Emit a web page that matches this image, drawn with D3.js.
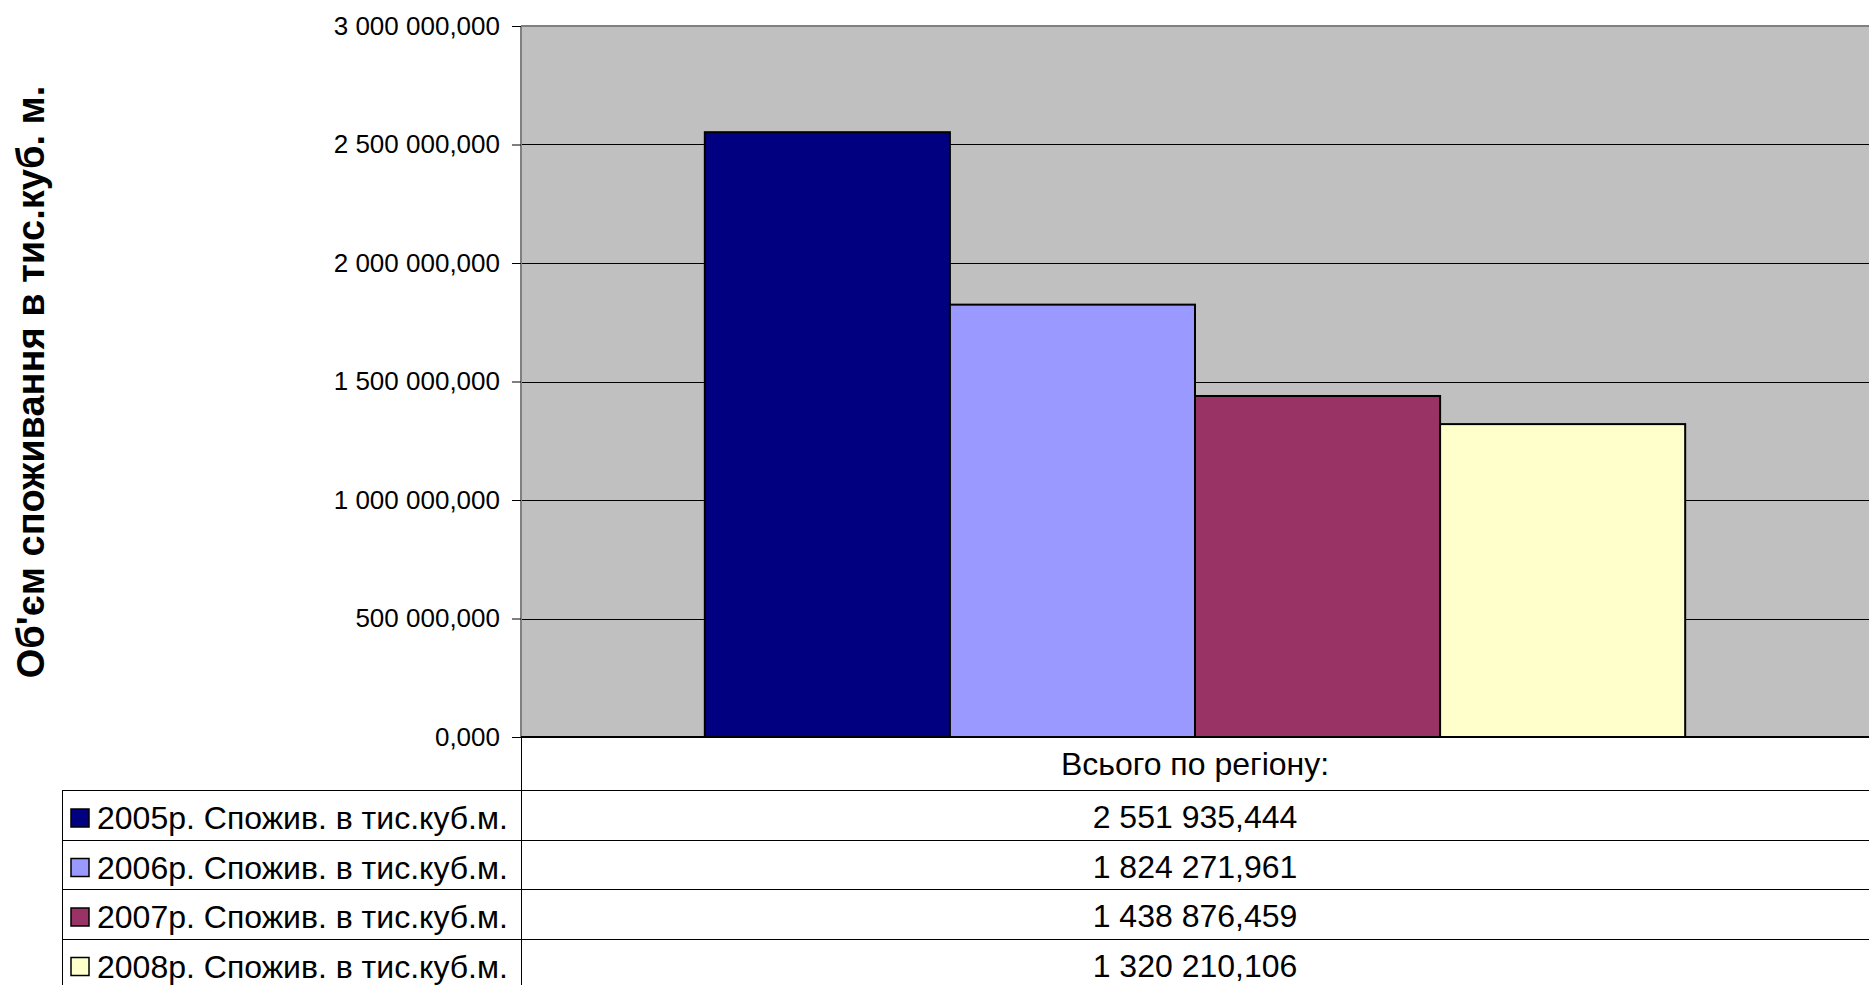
<!DOCTYPE html>
<html>
<head>
<meta charset="utf-8">
<script src="https://cdn.jsdelivr.net/npm/d3@7"></script>
<style>
  html, body { margin: 0; padding: 0; background: #ffffff; }
  svg { display: block; }
  text { font-family: "Liberation Sans", Arial, sans-serif; fill: #000; }
</style>
</head>
<body>
<svg id="chart" width="1869" height="985"></svg>
<script>
// ---- data ----
const categories = ["Всього по регіону:"];
const seriesNames = [
  "2005р. Спожив. в тис.куб.м.",
  "2006р. Спожив. в тис.куб.м.",
  "2007р. Спожив. в тис.куб.м.",
  "2008р. Спожив. в тис.куб.м."
];
const seriesValues = [2551935.444, 1824271.961, 1438876.459, 1320210.106];
const seriesColors = ["#000080", "#9999FF", "#993366", "#FFFFCC"];
const tickValues = [0, 500000, 1000000, 1500000, 2000000, 2500000, 3000000];
const tickLabels = ["0,000", "500 000,000", "1 000 000,000", "1 500 000,000",
                    "2 000 000,000", "2 500 000,000", "3 000 000,000"];
const yTitle = "Об'єм споживання в тис.куб. м.";

// ---- layout ----
const W = 1869, H = 985;
const plot = { left: 521, right: 1869, top: 26, bottom: 737 };
const table = { left: 62, headerBottom: 790, rowH: 49.5 };

const svg = d3.select("#chart");
const fmt = d3.formatLocale({ decimal: ",", thousands: " ", grouping: [3], currency: ["", ""] }).format(",.3f");

const y = d3.scaleLinear().domain([0, 3000000]).range([plot.bottom, plot.top]);
const x0 = d3.scaleBand().domain(categories).range([plot.left, plot.right]);
const x1 = d3.scaleBand().domain(seriesNames).range([0, x0.bandwidth()]).paddingInner(0).paddingOuter(0.75);

// plot background
svg.append("rect").attr("x", plot.left).attr("y", plot.top)
  .attr("width", plot.right - plot.left).attr("height", plot.bottom - plot.top)
  .attr("fill", "#C0C0C0");

// gridlines
svg.append("g").selectAll("line").data(tickValues.filter(d => d > 0 && d < 3000000)).join("line")
  .attr("x1", plot.left).attr("x2", plot.right)
  .attr("y1", d => Math.round(y(d)) + 0.5).attr("y2", d => Math.round(y(d)) + 0.5)
  .attr("stroke", "#000").attr("stroke-width", 1);

// plot border (top + left gray)
svg.append("line").attr("x1", plot.left).attr("x2", plot.right)
  .attr("y1", plot.top).attr("y2", plot.top).attr("stroke", "#808080").attr("stroke-width", 2);
svg.append("line").attr("x1", plot.left).attr("x2", plot.left)
  .attr("y1", plot.top).attr("y2", plot.bottom).attr("stroke", "#808080").attr("stroke-width", 2);

// bars
const g = svg.append("g");
categories.forEach(cat => {
  g.selectAll("rect.bar").data(seriesNames).join("rect")
    .attr("class", "bar")
    .attr("x", d => x0(cat) + x1(d))
    .attr("width", x1.bandwidth())
    .attr("y", (d, i) => y(seriesValues[i]))
    .attr("height", (d, i) => plot.bottom - y(seriesValues[i]))
    .attr("fill", (d, i) => seriesColors[i])
    .attr("stroke", "#000").attr("stroke-width", 2);
});

// y axis
const yAxis = d3.axisLeft(y).tickValues(tickValues)
  .tickFormat((d, i) => tickLabels[i]).tickSize(9).tickPadding(12);
const ya = svg.append("g").attr("transform", `translate(${plot.left},0)`).call(yAxis);
ya.select(".domain").remove();
ya.selectAll(".tick line").attr("stroke", "#000").attr("stroke-width", 1);
ya.selectAll(".tick text").attr("font-size", 26).attr("font-family", '"Liberation Sans", Arial, sans-serif')
  .attr("fill", "#000");

// x axis line
svg.append("line").attr("x1", plot.left).attr("x2", plot.right)
  .attr("y1", plot.bottom).attr("y2", plot.bottom).attr("stroke", "#000").attr("stroke-width", 2);

// y title
svg.append("text")
  .attr("transform", `translate(44,382) rotate(-90)`)
  .attr("text-anchor", "middle")
  .attr("font-size", 38).attr("font-weight", "bold")
  .text(yTitle);

// ---- data table ----
const tbl = svg.append("g");
// vertical divider continuing the plot's left edge
tbl.append("line").attr("x1", plot.left + 0.5).attr("x2", plot.left + 0.5)
  .attr("y1", plot.bottom).attr("y2", H).attr("stroke", "#000").attr("stroke-width", 1);
// left table border
tbl.append("line").attr("x1", table.left + 0.5).attr("x2", table.left + 0.5)
  .attr("y1", table.headerBottom).attr("y2", H).attr("stroke", "#000").attr("stroke-width", 1);

// header category label
tbl.selectAll("text.cat").data(categories).join("text").attr("class", "cat")
  .attr("x", d => x0(d) + x0.bandwidth() / 2).attr("y", 775)
  .attr("text-anchor", "middle").attr("font-size", 32).text(d => d);

// row lines
const rowTops = seriesNames.map((d, i) => table.headerBottom + i * table.rowH);
tbl.selectAll("line.row").data(rowTops).join("line").attr("class", "row")
  .attr("x1", table.left).attr("x2", plot.right)
  .attr("y1", d => Math.round(d) + 0.5).attr("y2", d => Math.round(d) + 0.5)
  .attr("stroke", "#000").attr("stroke-width", 1);

// legend swatches
tbl.selectAll("rect.sw").data(seriesNames).join("rect").attr("class", "sw")
  .attr("x", 71).attr("y", (d, i) => rowTops[i] + 19).attr("width", 18).attr("height", 18)
  .attr("fill", (d, i) => seriesColors[i]).attr("stroke", "#000").attr("stroke-width", 1.5);

// legend labels
tbl.selectAll("text.lbl").data(seriesNames).join("text").attr("class", "lbl")
  .attr("x", 97).attr("y", (d, i) => rowTops[i] + 39)
  .attr("font-size", 32).text(d => d);

// values
categories.forEach(cat => {
  tbl.selectAll("text.val").data(seriesValues).join("text").attr("class", "val")
    .attr("x", x0(cat) + x0.bandwidth() / 2).attr("y", (d, i) => rowTops[i] + 38)
    .attr("text-anchor", "middle").attr("font-size", 32).text(d => fmt(d));
});
</script>
</body>
</html>
